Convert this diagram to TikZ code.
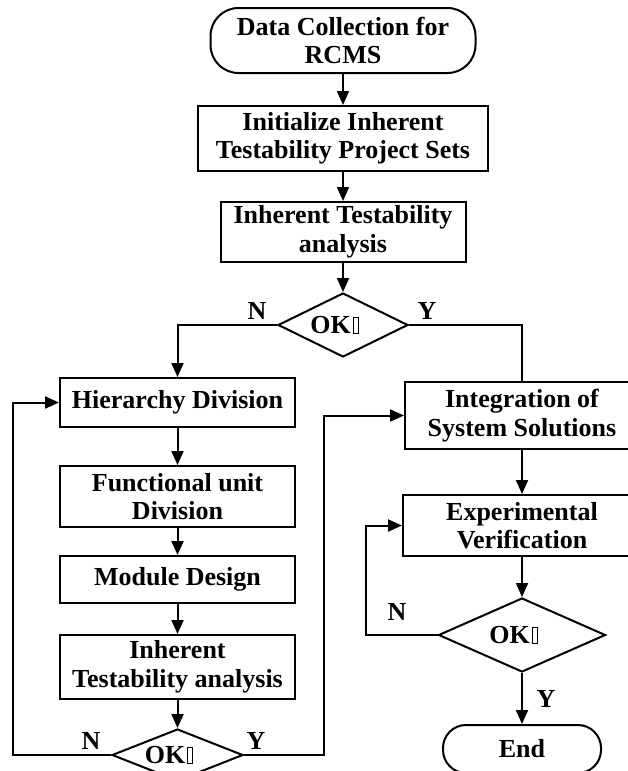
\documentclass[tikz,border=0pt]{standalone}
\usepackage{fontspec}
\setmainfont{Liberation Serif}
\usetikzlibrary{shapes.geometric,arrows.meta}
\newcommand{\tofu}{\kern1.8pt{\setlength{\fboxsep}{0pt}\setlength{\fboxrule}{1.1pt}\fbox{\rule{0pt}{15pt}\kern4pt}}\kern17pt}
\tikzset{
  base/.style={draw, line width=2pt, font=\bfseries\fontsize{26}{28.5}\selectfont, inner sep=0pt},
  proc/.style={base, rectangle, align=center},
  term/.style={base, rectangle, rounded corners=28pt, align=center},
  dec/.style={base, diamond, aspect=2},
  lbl/.style={font=\bfseries\fontsize{26}{28.5}\selectfont, inner sep=0pt},
  conn/.style={line width=2pt, -{Triangle[length=14pt,width=12pt]}},
  plainline/.style={line width=2pt}
}
\begin{document}
\begin{tikzpicture}[x=1pt,y=-1pt]
\useasboundingbox (0,0) rectangle (628,771);
\clip (0,0) rectangle (628,771);
% top column
\node[term, minimum width=265pt, minimum height=65pt] (start) at (343,40.5) {Data Collection for\\RCMS};
\node[proc, minimum width=290pt, minimum height=65pt] (init) at (343,138.5) {Initialize Inherent\\Testability Project Sets};
\node[proc, minimum width=245pt, minimum height=60pt] (inh) at (343,232) {Inherent Testability\\analysis};
\node[dec, minimum width=130pt, minimum height=64pt] (d1) at (343,325) {OK\tofu};
% left column
\node[proc, minimum width=235pt, minimum height=49pt] (hier) at (177.5,402.5) {Hierarchy Division};
\node[proc, minimum width=235pt, minimum height=61pt] (func) at (177.5,496.5) {Functional unit\\Division};
\node[proc, minimum width=235pt, minimum height=47pt] (mod) at (177.5,579.5) {Module Design};
\node[proc, minimum width=235pt, minimum height=64pt] (inh2) at (177.5,667) {Inherent\\Testability analysis};
\node[dec, minimum width=131pt, minimum height=52pt] (d2) at (177.5,755) {OK\tofu};
% right column
\node[proc, minimum width=234pt, minimum height=67pt] (integ) at (522,415.5) {Integration of\\System Solutions};
\node[proc, minimum width=238pt, minimum height=61pt] (exp) at (522,525.5) {Experimental\\Verification};
\node[dec, minimum width=167pt, minimum height=74pt] (d3) at (522,635) {OK\tofu};
\node[term, rounded corners=23pt, minimum width=158pt, minimum height=48pt] (end) at (522,749) {End};
% labels
\node[lbl] (n1) at (257,311) {N};
\node[lbl] (y1) at (427,311) {Y};
\node[lbl] (n2) at (91,741) {N};
\node[lbl] (y2) at (256,741) {Y};
\node[lbl] (n3) at (397,612) {N};
\node[lbl] (y3) at (546,699) {Y};
% connectors
\draw[conn] (start) -- (init);
\draw[conn] (init) -- (inh);
\draw[conn] (inh) -- (d1);
\draw[conn] (d1.west) -| (hier.north);
\draw[plainline] (d1.east) -| (integ.north);
\draw[conn] (hier) -- (func);
\draw[conn] (func) -- (mod);
\draw[conn] (mod) -- (inh2);
\draw[conn] (inh2) -- (d2);
\draw[conn] (d2.west) -- ++(-98,0) |- (hier.west);
\draw[conn] (d2.east) -- ++(80,0) |- (integ.west);
\draw[conn] (integ) -- (exp);
\draw[conn] (exp) -- (d3);
\draw[conn] (d3.west) -- ++(-72,0) |- (exp.west);
\draw[conn] (d3) -- (end);
\end{tikzpicture}
\end{document}
